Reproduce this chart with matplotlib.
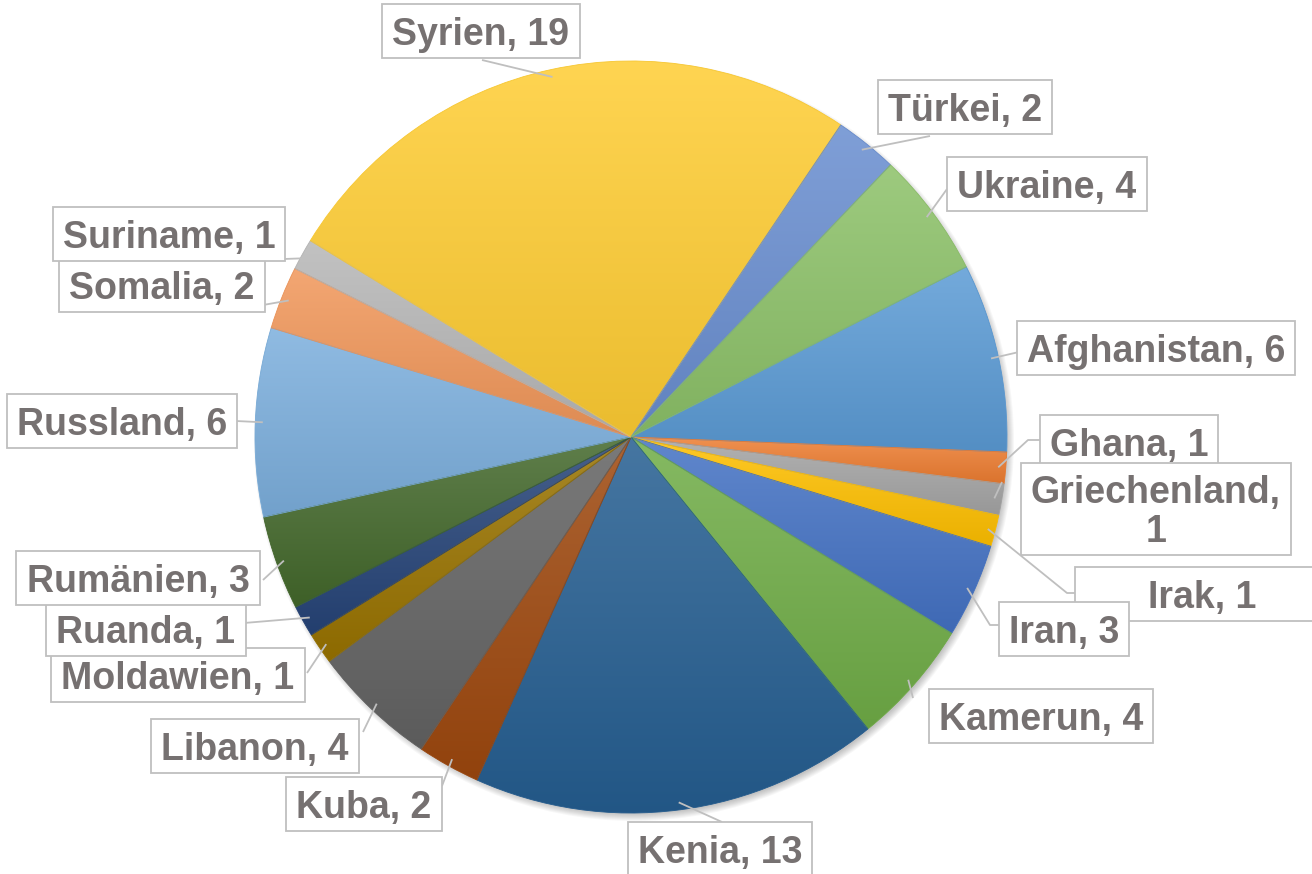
import numpy as np
import matplotlib.pyplot as plt
from matplotlib.colors import to_rgb
from matplotlib.path import Path
from matplotlib.patches import Circle

plt.rcParams['font.family'] = ['Liberation Sans', 'DejaVu Sans']

countries = ['Afghanistan', 'Ghana', 'Griechenland', 'Irak', 'Iran', 'Kamerun',
             'Kenia', 'Kuba', 'Libanon', 'Moldawien', 'Ruanda', 'Rumänien',
             'Russland', 'Somalia', 'Suriname', 'Syrien', 'Türkei', 'Ukraine']
counts = [6, 1, 1, 1, 3, 4, 13, 2, 4, 1, 1, 3, 6, 2, 1, 19, 2, 4]
colors = ['#5B9BD5', '#ED7D31', '#A5A5A5', '#FFC000', '#4472C4', '#70AD47',
          '#255E91', '#9E480E', '#636363', '#997300', '#264478', '#43682B',
          '#7CAFDD', '#F1975A', '#B7B7B7', '#FFCD33', '#698ED0', '#8CC168']

# label box centres and leader start points, in pixels from the top-left
label_pos = {
    'Afghanistan': (1156, 348), 'Ghana': (1129, 442), 'Griechenland': (1156, 509),
    'Irak': (1202, 594), 'Iran': (1064, 629), 'Kamerun': (1041, 716),
    'Kenia': (720, 849), 'Kuba': (364, 804), 'Libanon': (255, 746),
    'Moldawien': (178, 675), 'Ruanda': (146, 629), 'Rumänien': (138, 578),
    'Russland': (122, 421), 'Somalia': (162, 285), 'Suriname': (169, 234),
    'Syrien': (481, 31), 'Türkei': (965, 107), 'Ukraine': (1047, 184),
}
leader_start = {
    'Afghanistan': [(1019, 352)], 'Ghana': [(1042, 440), (1028, 440)],
    'Griechenland': [(1002, 482)], 'Irak': [(1079, 593), (1067, 593)],
    'Iran': [(1001, 625), (990, 625)], 'Kamerun': [(913, 698)],
    'Kenia': [(722, 822)], 'Kuba': [(442, 786)], 'Libanon': [(363, 732)],
    'Moldawien': [(307, 673)], 'Ruanda': [(244, 623)], 'Rumänien': [(263, 580)],
    'Russland': [(236, 421)], 'Somalia': [(263, 305)], 'Suriname': [(284, 259)],
    'Syrien': [(482, 60)], 'Türkei': [(930, 136)], 'Ukraine': [(947, 189)],
}

W, H = 1312, 874
CX, CY, R = 631, 437, 376
FONT_SIZE = 27
TEXT_COLOR = '#767171'
LINE_COLOR = '#BFBFBF'
SHIFT = 0.1  # in em: text sits a bit low in the box, like Excel does it


def flip(p):
    return p[0], H - p[1]


def mix(c, other, t):
    c, other = np.array(to_rgb(c)), np.array(to_rgb(other))
    return c * (1 - t) + other * t


def make_box(padx=0.27, pady=0.24):
    def label_box(x0, y0, width, height, mutation_size):
        px = padx * mutation_size
        pb, pt = (pady - SHIFT) * mutation_size, (pady + SHIFT) * mutation_size
        x0, y0 = x0 - px, y0 - pb
        x1, y1 = x0 + width + 2 * px, y0 + height + pb + pt
        return Path([(x0, y0), (x1, y0), (x1, y1), (x0, y1), (x0, y0)], closed=True)
    return label_box


fig = plt.figure(figsize=(13.12, 8.74), dpi=100)
ax = fig.add_axes([0, 0, 1, 1])
ax.set_xlim(0, W)
ax.set_ylim(0, H)
ax.set_autoscale_on(False)
ax.axis('off')

# soft shadow under the pie
for k in range(8):
    ax.add_patch(Circle((CX + 3, H - CY - 4), R + 4 - k, color='black',
                        alpha=0.03, lw=0, zorder=0))

wedges, _ = ax.pie(counts, colors=colors, startangle=26.9, counterclock=False,
                   center=(CX, H - CY), radius=R, frame=True,
                   wedgeprops=dict(linewidth=0))
ax.set_xlim(0, W)
ax.set_ylim(0, H)
ax.axis('off')

# vertical gradient inside each wedge
ramp = np.linspace(0, 1, 256)[:, None]
for w, c in zip(wedges, colors):
    ext = w.get_path().get_extents()
    top, bottom = mix(c, 'white', 0.15), mix(c, 'black', 0.08)
    img = bottom[None, None, :] * (1 - ramp[..., None]) + top[None, None, :] * ramp[..., None]
    im = ax.imshow(img, extent=(ext.x0, ext.x1, ext.y0, ext.y1), origin='lower',
                   aspect='auto', interpolation='bilinear', zorder=2)
    im.set_clip_path(w)
    w.set_facecolor('none')
    w.set_edgecolor(mix(c, 'black', 0.03))
    w.set_linewidth(0.6)
    w.set_zorder(3)

# labels with leader lines
total = sum(counts)
angle = 26.9
em = FONT_SIZE * 100 / 72
for name, n in zip(countries, counts):
    span = n / total * 360
    mid = np.radians(angle - span / 2)
    angle -= span
    end = (CX + 0.98 * R * np.cos(mid), H - CY + 0.98 * R * np.sin(mid))
    pts = [flip(p) for p in leader_start[name]] + [end]
    xs, ys = zip(*pts)
    ax.plot(xs, ys, color=LINE_COLOR, lw=1.3, zorder=4, solid_capstyle='butt')

    text = f'{name},\n{n}' if name == 'Griechenland' else f'{name}, {n}'
    box = make_box(padx=1.95) if name == 'Irak' else make_box()
    x, y = flip(label_pos[name])
    ax.text(x, y - SHIFT * em, text, ha='center', va='center',
            multialignment='center', fontsize=FONT_SIZE, fontweight='bold',
            color=TEXT_COLOR, zorder=5, linespacing=1.1,
            bbox=dict(boxstyle=box, facecolor='white',
                      edgecolor=LINE_COLOR, linewidth=1.3))

ax.set_xlim(0, W)
ax.set_ylim(0, H)
fig.savefig('out.png', dpi=100)
